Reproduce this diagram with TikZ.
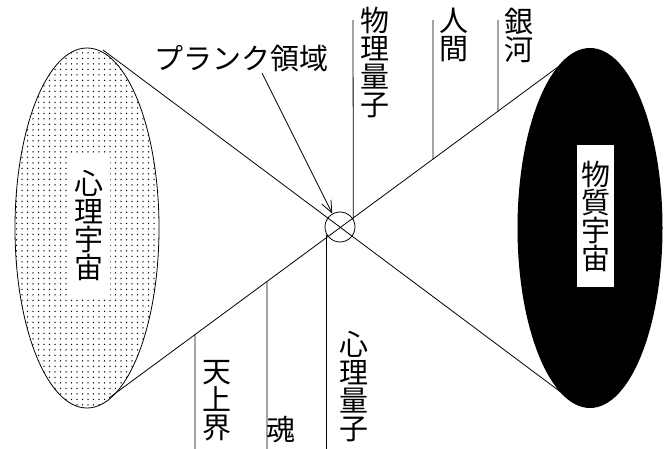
\documentclass[tikz,border=0pt]{standalone}
\usepackage{fontspec}
\newfontfamily\jp{Noto Sans CJK JP}
\usetikzlibrary{arrows.meta,patterns.meta}
\begin{document}
\begin{tikzpicture}[x=1pt,y=-1pt,
  thinline/.style={line width=0.8pt},
  jtext/.style={font=\jp\fontsize{29}{28}\selectfont, inner sep=0pt, align=center},
  ubox/.style={jtext, fill=white, minimum width=38pt, minimum height=142pt}]
\useasboundingbox (0,0) rectangle (667,449);
% tangent endpoints
\coordinate (A1) at (103,50);
\coordinate (A2) at (562,393);
\coordinate (B1) at (109,398);
\coordinate (B2) at (562,64);
% cross lines
\draw[thinline] (A1) -- (A2);
\draw[thinline] (B1) -- (B2);
% left ellipse (dotted)
\path[pattern={Dots[distance=5.5pt, radius=0.75pt]}] (87,228) ellipse [x radius=72, y radius=180];
\draw[thinline] (87,228) ellipse [x radius=72, y radius=180];
% right ellipse (black)
\fill[black] (590,228) ellipse [x radius=72.5, y radius=180];
% centre circle
\node[draw, circle, thinline, minimum size=30pt, inner sep=0pt] (c) at (340,227) {};
% boxes
\node[ubox, minimum width=42pt] (psy) at (89,226) {心\\理\\宇\\宙};
\node[ubox, minimum width=37pt] (mat) at (595.5,216) {物\\質\\宇\\宙};
% labels
\node[jtext] (planck) at (241,59) {プランク領域};
\node[jtext] (pq) at (375,63) {物\\理\\量\\子};
\node[jtext] (hum) at (454,35) {人\\間};
\node[jtext] (gal) at (519,35) {銀\\河};
\node[jtext] (heav) at (217,401) {天\\上\\界};
\node[jtext] (soul) at (281,430) {魂};
\node[jtext] (mq) at (354,387) {心\\理\\量\\子};
% leader lines
\coordinate (Tpq) at (353,20);
\coordinate (Thum) at (433,20);
\coordinate (Tgal) at (498,20);
\coordinate (Bheav) at (195,449);
\coordinate (Bsoul) at (267,449);
\draw[thinline] (Tpq) -- (c.30);
\draw[thinline] (Thum) -- (intersection of B1--B2 and Thum--433,300);
\draw[thinline] (Tgal) -- (intersection of B1--B2 and Tgal--498,300);
\draw[thinline] (Bheav) -- (intersection of B1--B2 and Bheav--195,100);
\draw[thinline] (Bsoul) -- (intersection of B1--B2 and Bsoul--267,100);
\draw[thinline] (c.210) -- (c.210 |- 0,449);
\coordinate (pstart) at (262,73);
\draw[thinline, -{Straight Barb[length=12pt,width=10pt]}] (pstart) -- (c.120);
\end{tikzpicture}
\end{document}
